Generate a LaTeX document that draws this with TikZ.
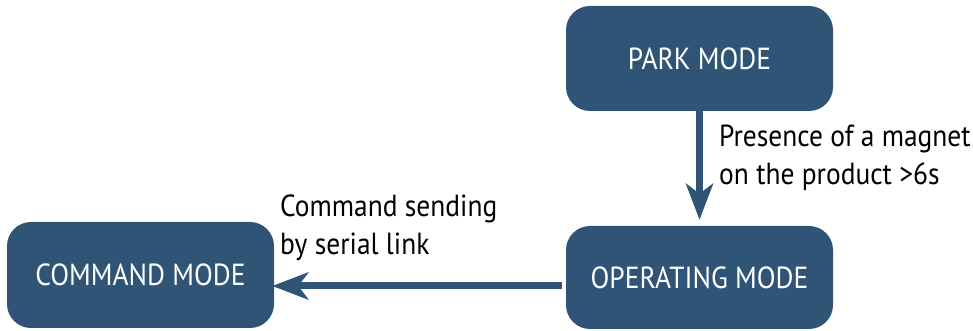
\documentclass[tikz,border=0pt]{standalone}
\usepackage{fontspec}
\setmainfont[FakeStretch=0.9]{PT Sans}
\usetikzlibrary{arrows.meta}
\definecolor{boxblue}{HTML}{2F5475}
\tikzset{
  modebox/.style={fill=boxblue, draw=none, rounded corners=24pt, minimum width=267pt, inner sep=0pt,
    text=white, font=\fontsize{30.5}{36}\selectfont},
  arr/.style={draw=boxblue, line width=7pt, -{Stealth[length=36pt, width=27pt, inset=10pt]}},
  lbl/.style={font=\fontsize{30.5}{38}\selectfont, align=left, inner sep=0pt, text=black}
}
\begin{document}
\begin{tikzpicture}[x=1pt,y=1pt]
\useasboundingbox (0,0) rectangle (973,331);
\node[modebox, minimum height=105pt] (park) at (699.5,272.5) {PARK MODE};
\node[modebox, minimum height=103pt] (op) at (699.5,53.5) {OPERATING MODE};
\node[modebox, minimum height=106pt] (cmd) at (140.5,56) {COMMAND MODE};
\draw[arr, shorten >=6pt] (park.south) -- (op.north);
\draw[arr, shorten <=3.5pt, shorten >=-2pt] ([yshift=-8.5pt]op.west) -- ([yshift=-8.5pt]op.west -| cmd.east);
\node[lbl, anchor=base west] (l1) at (719,146) {Presence of a magnet\\on the product >6s};
\node[lbl, anchor=base west] (l2) at (280,76) {Command sending\\by serial link};
\end{tikzpicture}
\end{document}
